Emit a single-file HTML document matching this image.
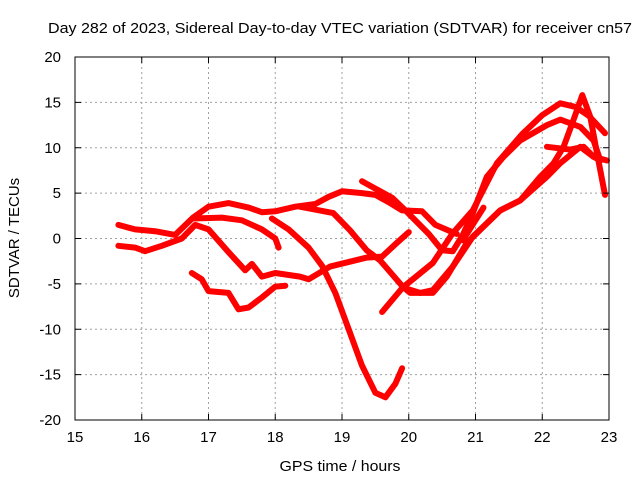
<!DOCTYPE html>
<html><head><meta charset="utf-8"><style>
body{margin:0;background:#fff;}
svg{display:block;font-family:"Liberation Sans",sans-serif;}
</style></head><body>
<svg id="chart" width="640" height="480" viewBox="0 0 640 480">
<text x="340" y="33" font-size="15" text-anchor="middle" textLength="584" lengthAdjust="spacingAndGlyphs">Day 282 of 2023, Sidereal Day-to-day VTEC variation (SDTVAR) for receiver cn57</text>
<text x="340" y="471" font-size="15" text-anchor="middle" textLength="121" lengthAdjust="spacingAndGlyphs">GPS time / hours</text>
<text transform="translate(19,238) rotate(-90)" font-size="15" text-anchor="middle">SDTVAR / TECUs</text>
<g id="grid"></g><g id="series"></g><g id="axes"></g>
</svg>
<script>
const xTicks=[15,16,17,18,19,20,21,22,23];
const yTicks=[-20,-15,-10,-5,0,5,10,15,20];
const s1h=[15.65,15.9,16.05,16.3,16.6,16.8,17.0,17.3,17.55,17.65,17.8,18.0,18.37,18.5,18.82,19.37,19.6,19.82,20.0];
const s1v=[-0.8,-1,-1.4,-0.8,0,1.5,1.0,-1.5,-3.5,-2.8,-4.2,-3.8,-4.2,-4.5,-3.1,-2.1,-2,-0.5,0.7];
const s2h=[15.65,15.9,16.2,16.5,16.77,17.0,17.3,17.6,17.8,18.0,18.3,18.6,18.8,19.0,19.3,19.5,19.7,19.9,20.2,20.4,20.72];
const s2v=[1.5,1.0,0.8,0.4,2.3,3.5,3.9,3.4,2.9,3.0,3.5,3.8,4.6,5.2,5.0,4.8,4.0,3.1,3.0,1.5,0.5];
const s3h=[16.77,17.2,17.5,17.8,18.0,18.05];
const s3v=[2.2,2.3,2.0,1.0,0,-1];
const s4h=[16.75,16.9,17.0,17.3,17.45,17.6,17.8,18.0,18.15];
const s4v=[-3.8,-4.5,-5.8,-6,-7.8,-7.6,-6.5,-5.3,-5.2];
const s5h=[17.95,18.2,18.5,18.7,18.9,19.1,19.3,19.5,19.65,19.8,19.9];
const s5v=[2.2,1.0,-1,-3,-6,-10,-14,-17,-17.5,-16,-14.3];
const s6h=[18.37,18.87,19.12,19.37,19.57,19.91,20.02,20.36,20.57,20.87,21.37,21.67,22.07,22.27,22.57,22.77,22.87];
const s6v=[3.5,2.8,0.9,-1.3,-2.4,-5.3,-6.0,-6,-4.2,-0.5,3.1,4.2,6.8,8.3,10.1,9.0,8.6];
const s7h=[19.3,19.5,19.75,19.95,20.3,20.5,20.66,20.81,20.96,21.17,21.42,21.67,22.07,22.27,22.57,22.77,22.87];
const s7v=[6.3,5.5,4.5,3.1,0.5,-1.3,-1.4,0.4,2.8,6.8,9.0,10.8,12.5,13.1,12.3,10.8,8.6];
const s8h=[19.6,19.91,20.36,20.66,20.96,21.32,21.7,22.0,22.27,22.5,22.7,22.94];
const s8v=[-8.1,-5.4,-2.7,0.6,3.1,8.3,11.5,13.6,14.9,14.5,13.5,11.6];
const s9h=[19.91,20.17,20.36,20.66,20.96,21.37,21.67,21.97,22.17,22.32,22.47,22.6,22.72,22.82,22.94];
const s9v=[-5.4,-6,-5.7,-3.1,0.2,3.1,4.2,6.8,8.3,10.1,13.1,15.8,13.4,9.4,4.8];
const s10h=[22.07,22.42,22.62,22.77,22.97];
const s10v=[10.1,9.8,10.1,9.0,8.6];
const s11h=[20.81,21.12];
const s11v=[-0.2,3.4];
const X0=75,X1=609,Y0=420,Y1=57;
const xs=h=>X0+(h-15)/8*(X1-X0);
const ys=v=>Y0-(v+20)/40*(Y0-Y1);
const NS="http://www.w3.org/2000/svg";
const grid=document.getElementById('grid'),axes=document.getElementById('axes'),ser=document.getElementById('series');
function mk(tag,attrs,parent){const e=document.createElementNS(NS,tag);for(const k in attrs)e.setAttribute(k,attrs[k]);parent.appendChild(e);return e;}
xTicks.forEach(t=>{const x=xs(t);
 if(t>15&&t<23){const g=mk('line',{x1:x,x2:x,y1:Y1,y2:Y0,stroke:'#a0a0a0','stroke-dasharray':'2,3'},grid);
 
 }
 mk('line',{x1:x,x2:x,y1:Y0,y2:Y0-6,stroke:'#000'},axes);mk('line',{x1:x,x2:x,y1:Y1,y2:Y1+6,stroke:'#000'},axes);
 const tx=mk('text',{x:x,y:442,'font-size':15,'text-anchor':'middle'},axes);tx.textContent=t;
 
 });
yTicks.forEach(t=>{const y=ys(t);
 if(t>-20&&t<20){const g=mk('line',{x1:X0,x2:X1,y1:y,y2:y,stroke:'#a0a0a0','stroke-dasharray':'2,3'},grid);
 
 }
 mk('line',{x1:X0,x2:X0+6,y1:y,y2:y,stroke:'#000'},axes);mk('line',{x1:X1,x2:X1-6,y1:y,y2:y,stroke:'#000'},axes);
 const tx=mk('text',{x:61,y:y+5,'font-size':15,'text-anchor':'end'},axes);tx.textContent=t;
 
 });
const fr=mk('rect',{x:X0,y:Y1,width:X1-X0,height:Y0-Y1,fill:'none',stroke:'#000'},axes);


[[s1h,s1v],[s2h,s2v],[s3h,s3v],[s4h,s4v],[s5h,s5v],[s6h,s6v],[s7h,s7v],[s8h,s8v],[s9h,s9v],[s10h,s10v],[s11h,s11v]].forEach(([hh,vv],i)=>{
 const pts=hh.map((h,j)=>xs(h).toFixed(1)+','+ys(vv[j]).toFixed(1)).join(' ');
 const p=mk('polyline',{points:pts,fill:'none',stroke:'#ff0000','stroke-width':6,'stroke-linejoin':'round','stroke-linecap':'round'},ser);
 
 
});
</script>
</body></html>
